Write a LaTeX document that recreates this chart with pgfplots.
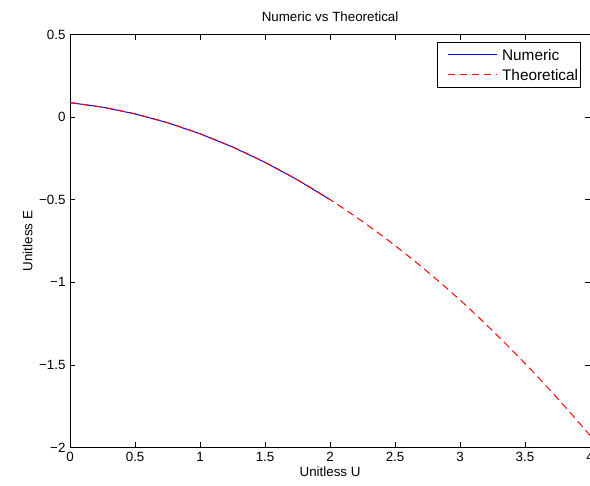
\documentclass[border=0pt]{standalone}
\usepackage{fontspec}
\setmainfont{Liberation Sans}
\usepackage{pgfplots}
\pgfplotsset{compat=1.18}
\usetikzlibrary{calc}

\begin{document}
\begin{tikzpicture}
\begin{axis}[
    name=ax,
    scale only axis,
    width=389pt, height=309pt,
    xmin=0, xmax=4, ymin=-2, ymax=0.5,
    xtick={0,0.5,1,1.5,2,2.5,3,3.5,4},
    xticklabels={0,0.5,1,1.5,2,2.5,3,3.5,4},
    ytick={-2,-1.5,-1,-0.5,0,0.5},
    yticklabels={−2,−1.5,−1,−0.5,0,0.5},
    tick align=inside,
    major tick length=3.8pt,
    tick style={black, line width=0.5pt},
    axis line style={line width=0.6pt},
    every tick label/.append style={font=\fontsize{10}{12}\selectfont},
    xlabel={Unitless U},
    ylabel={Unitless E},
    label style={font=\fontsize{10}{12}\selectfont},
    xlabel style={yshift=3pt},
    ylabel style={yshift=-2pt},
    title={Numeric vs Theoretical},
    title style={font=\fontsize{10}{12}\selectfont},
]
\addplot[color=blue, line width=0.75pt] coordinates {
    (0,0.088) (0.25,0.0605) (0.5,0.0199) (0.75,-0.0337) (1,-0.1005)
    (1.25,-0.1805) (1.5,-0.2736) (1.75,-0.3797) (2,-0.499)
};
\addplot[color=red, line width=0.75pt, dash pattern=on 5.5pt off 3.5pt, smooth] coordinates {
    (0,0.088) (0.25,0.0605) (0.5,0.0199) (0.75,-0.0337) (1,-0.1005)
    (1.25,-0.1805) (1.5,-0.2736) (1.75,-0.3797) (2,-0.499)
    (2.25,-0.6315) (2.5,-0.7771) (2.75,-0.9357) (3,-1.107)
    (3.25,-1.2925) (3.5,-1.4906) (3.75,-1.7017) (4,-1.926)
};
\end{axis}
% legend (MATLAB style box in the top right corner)
\draw[black, line width=0.6pt, fill=white]
    ($(ax.north east)+(-114pt,-5.6pt)$) rectangle ($(ax.north east)+(-7.5pt,-39.8pt)$);
\draw[blue, line width=0.75pt]
    ($(ax.north east)+(-106.5pt,-15pt)$) -- ($(ax.north east)+(-69.75pt,-15pt)$);
\draw[red, line width=0.75pt, dash pattern=on 5.5pt off 3.5pt]
    ($(ax.north east)+(-106.5pt,-30.2pt)$) -- ($(ax.north east)+(-69.75pt,-30.2pt)$);
\node[anchor=west, inner sep=0pt, font=\fontsize{11.5}{13}\selectfont]
    at ($(ax.north east)+(-66pt,-15pt)$) {Numeric};
\node[anchor=west, inner sep=0pt, font=\fontsize{11.5}{13}\selectfont]
    at ($(ax.north east)+(-66pt,-30.2pt)$) {Theoretical};
\pgfresetboundingbox
\path[use as bounding box] ($(ax.south west)+(-52.5pt,-28.5pt)$) rectangle ($(ax.north east)+(0pt,25.9pt)$);
\end{tikzpicture}
\end{document}
